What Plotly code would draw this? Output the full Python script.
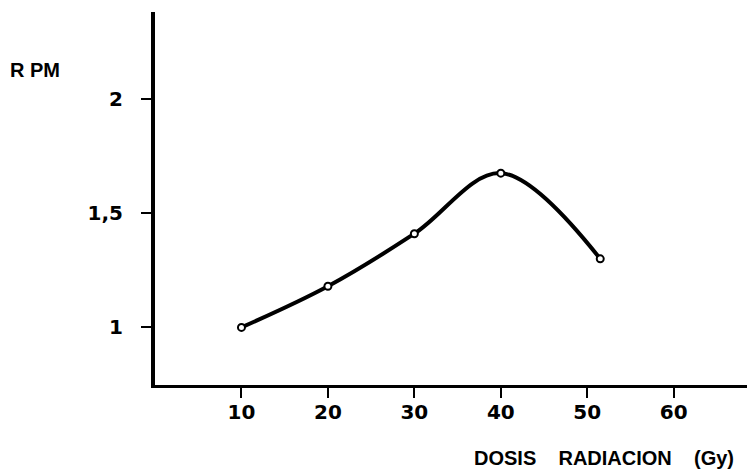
import plotly.graph_objects as go

dose_gy = [10, 20, 30, 40, 51.5]
rpm = [1.00, 1.18, 1.41, 1.675, 1.30]

x_ticks = [10, 20, 30, 40, 50, 60]
x_tick_labels = ["10", "20", "30", "40", "50", "60"]
y_ticks = [1, 1.5, 2]
y_tick_labels = ["1", "1,5", "2"]

fig = go.Figure()
fig.add_trace(go.Scatter(
    x=dose_gy, y=rpm, mode="lines+markers",
    line=dict(color="black", width=4, shape="spline", smoothing=1),
    marker=dict(symbol="circle", size=7, color="white",
                line=dict(color="black", width=2)),
    showlegend=False, hoverinfo="skip",
))

tick_font = dict(family="DejaVu Sans", size=20, color="black", weight="bold")
fig.update_xaxes(
    range=[0, 69.4], tickvals=x_ticks, ticktext=x_tick_labels,
    showline=True, linecolor="black", linewidth=3, showgrid=False, zeroline=False,
    ticks="outside", ticklen=10, tickwidth=2, tickcolor="black",
    tickfont=tick_font, ticklabelstandoff=-3,
)
fig.update_yaxes(
    range=[0.748, 2.38], tickvals=y_ticks, ticktext=y_tick_labels,
    showline=True, linecolor="black", linewidth=4, showgrid=False, zeroline=False,
    ticks="outside", ticklen=10, tickwidth=2, tickcolor="black",
    tickfont=tick_font, ticklabelstandoff=14,
)

title_font = dict(family="Liberation Sans", size=20, color="black", weight="bold")
nb = "\u00a0"
fig.add_annotation(
    text="R" + nb + "PM", xref="paper", yref="paper",
    x=-(155 - 8) / 600, y=(385 - 70) / 373, xanchor="left", yanchor="middle",
    showarrow=False, font=title_font,
)
fig.add_annotation(
    text="DOSIS" + nb * 4 + "RADIACION" + nb * 4 + "(Gy)", xref="paper", yref="paper",
    x=(472 - 155) / 600, y=-(458 - 385) / 373, xanchor="left", yanchor="middle",
    showarrow=False, font=title_font,
)

# page body has an 8px offset; compensate so the plot lands where the reference has it
fig.update_layout(
    width=747, height=466,
    margin=dict(l=147, r=0, t=4, b=89),
    paper_bgcolor="white", plot_bgcolor="white",
)
fig.write_html("out.html")
